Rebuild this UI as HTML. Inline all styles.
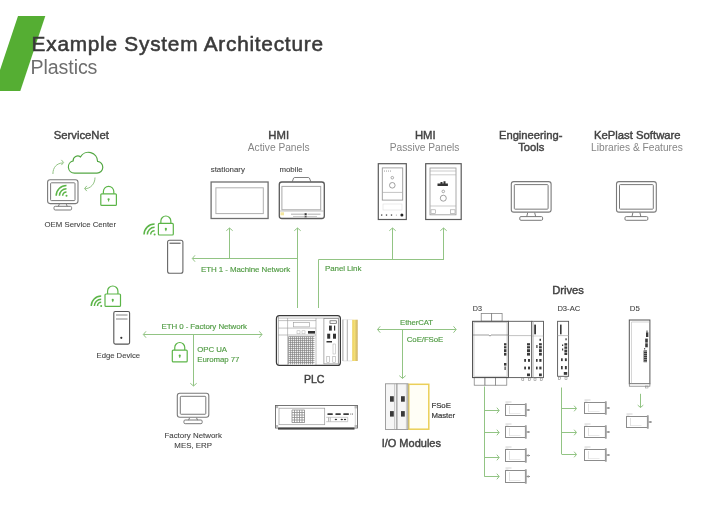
<!DOCTYPE html>
<html><head><meta charset="utf-8"><style>
html,body{margin:0;padding:0;background:#fff;}
body{width:720px;height:509px;overflow:hidden;}
svg{display:block;font-family:"Liberation Sans", sans-serif;will-change:transform;}
</style></head><body>
<svg width="720" height="509" viewBox="0 0 720 509">
<rect width="720" height="509" fill="#fff"/>
<polygon points="18,16 45.3,16 20.3,91 -7,91" fill="#55ae33"/>
<text x="31.6" y="51.3" font-size="20.8" fill="#3a3a3a" font-weight="normal" text-anchor="start" stroke="#3a3a3a" stroke-width="0.55" letter-spacing="0.76">Example System Architecture</text>
<text x="30.6" y="74" font-size="19.6" fill="#6e6e6e" font-weight="normal" text-anchor="start" letter-spacing="-0.1">Plastics</text>
<text x="81.3" y="138.9" font-size="11.3" fill="#434343" font-weight="normal" text-anchor="middle" stroke="#434343" stroke-width="0.42">ServiceNet</text>
<text x="278.7" y="138.9" font-size="11.3" fill="#434343" font-weight="normal" text-anchor="middle" stroke="#434343" stroke-width="0.42">HMI</text>
<text x="278.7" y="150.6" font-size="10.2" fill="#858585" font-weight="normal" text-anchor="middle" >Active Panels</text>
<text x="425.3" y="138.9" font-size="11.3" fill="#434343" font-weight="normal" text-anchor="middle" stroke="#434343" stroke-width="0.42">HMI</text>
<text x="424.6" y="150.6" font-size="10.2" fill="#858585" font-weight="normal" text-anchor="middle" >Passive Panels</text>
<text x="530.7" y="139.2" font-size="11.2" fill="#434343" font-weight="normal" text-anchor="middle" stroke="#434343" stroke-width="0.42">Engineering-</text>
<text x="531.2" y="150.6" font-size="11.2" fill="#434343" font-weight="normal" text-anchor="middle" stroke="#434343" stroke-width="0.42">Tools</text>
<text x="637.3" y="139.2" font-size="11.3" fill="#434343" font-weight="normal" text-anchor="middle" stroke="#434343" stroke-width="0.42">KePlast Software</text>
<text x="636.9" y="150.6" font-size="10.2" fill="#858585" font-weight="normal" text-anchor="middle" >Libraries &amp; Features</text>
<text x="227.8" y="172.3" font-size="7.9" fill="#444444" font-weight="normal" text-anchor="middle" stroke="#444444" stroke-width="0.1">stationary</text>
<text x="291" y="172.3" font-size="7.9" fill="#444444" font-weight="normal" text-anchor="middle" stroke="#444444" stroke-width="0.1">mobile</text>
<path d="M76,173.1 H97 A5.87,5.87 0 0 0 97.6,161.4 A9.16,9.16 0 0 0 80.5,156.9 A4.54,4.54 0 0 0 73.2,160.8 A6.23,6.23 0 0 0 74.5,173.1 Z" fill="none" stroke="#55a845" stroke-width="1.2"/>
<path d="M52.9,174 C52.9,167.5 56.5,163.2 63,162.9" fill="none" stroke="#92c484" stroke-width="1"/>
<polyline points="61.39,159.9 63.6,162.5 61.39,165.1" fill="none" stroke="#92c484" stroke-width="1"/>
<path d="M95,177.5 C95,184 90.5,188.6 84.8,188.8" fill="none" stroke="#92c484" stroke-width="1"/>
<polyline points="86.80999999999999,185.9 84.6,188.5 86.80999999999999,191.1" fill="none" stroke="#92c484" stroke-width="1"/>
<rect x="47.6" y="179.8" width="30.4" height="23.80399999999999" rx="2.5" fill="none" stroke="#7a7a7a" stroke-width="1.1"/>
<rect x="50.6" y="182.8" width="24.4" height="17.80399999999999" rx="0.8" fill="none" stroke="#7a7a7a" stroke-width="1"/>
<path d="M59.3,204.104 L58.3,206.5 M66.3,204.104 L67.3,206.5" stroke="#7a7a7a" stroke-width="1" fill="none"/>
<rect x="54.007999999999996" y="206.3" width="17.584" height="3.7" rx="1.2" fill="none" stroke="#7a7a7a" stroke-width="1"/>
<path d="M62.66,195.8 A3.84,3.84 0 0 1 66.5,191.96 M59.42,195.8 A7.08,7.08 0 0 1 66.5,188.72 M56.18,195.8 A10.32,10.32 0 0 1 66.5,185.48000000000002" fill="none" stroke="#5cb548" stroke-width="1.5" stroke-linecap="butt"/>
<circle cx="66.5" cy="195.8" r="1" fill="#5cb548"/>
<path d="M103.392,193.848 L103.392,191.608 A5.207999999999999,5.207999999999999 0 0 1 113.80799999999999,191.608 L113.80799999999999,193.848" fill="none" stroke="#5cb548" stroke-width="1.2"/>
<rect x="100.8" y="193.848" width="15.599999999999998" height="11.551999999999987" rx="1" fill="none" stroke="#5cb548" stroke-width="1.2"/>
<circle cx="108.6" cy="199.324" r="1.1" fill="#5cb548"/>
<rect x="108.1" y="199.324" width="1" height="2.2" fill="#5cb548"/>
<text x="80.3" y="227.3" font-size="7.8" fill="#444444" font-weight="normal" text-anchor="middle" stroke="#444444" stroke-width="0.1">OEM Service Center</text>
<rect x="211.1" y="182" width="57" height="36.5" fill="none" stroke="#707070" stroke-width="1.3"/>
<rect x="215.9" y="187.8" width="47.4" height="25.8" fill="none" stroke="#b0b0b0" stroke-width="1"/>
<path d="M292.3,181.6 L293.6,178 Q294,177.5 295,177.5 L308,177.5 Q309,177.5 309.4,178 L310.8,181.6" fill="none" stroke="#808080" stroke-width="1"/>
<rect x="279.3" y="182" width="45" height="36.5" rx="2.5" fill="none" stroke="#5a5a5a" stroke-width="1.3"/>
<rect x="281.9" y="186.4" width="38.8" height="23.4" fill="none" stroke="#a8a8a8" stroke-width="1"/>
<line x1="280" y1="211" x2="324" y2="211" stroke="#b0b0b0" stroke-width="0.8"/>
<rect x="291" y="213.6" width="13" height="1.2" fill="#bbb"/><rect x="307.5" y="213.6" width="13" height="1.2" fill="#bbb"/><rect x="293" y="216" width="11" height="1" fill="#ccc"/><rect x="307" y="216" width="10" height="1" fill="#ccc"/>
<rect x="304.5" y="213.2" width="2.2" height="2" fill="#333"/><rect x="304.5" y="215.8" width="2.2" height="1.6" fill="#555"/>
<rect x="280.5" y="212.3" width="3.5" height="3" fill="#f3e6a0"/>
<line x1="229.5" y1="228" x2="229.5" y2="259" stroke="#92c484" stroke-width="1"/>
<polyline points="226.3,230.72 229.5,228 232.7,230.72" fill="none" stroke="#92c484" stroke-width="1"/>
<line x1="297.5" y1="228" x2="297.5" y2="308" stroke="#92c484" stroke-width="1"/>
<polyline points="294.3,230.72 297.5,228 300.7,230.72" fill="none" stroke="#92c484" stroke-width="1"/>
<rect x="378.3" y="163.7" width="28" height="55.8" fill="none" stroke="#5a5a5a" stroke-width="1.2"/>
<rect x="382.3" y="167.9" width="20.4" height="32.2" fill="none" stroke="#9a9a9a" stroke-width="0.9"/>
<line x1="382.3" y1="192.4" x2="402.7" y2="192.4" stroke="#aaa" stroke-width="0.7"/>
<circle cx="392.3" cy="177.7" r="1.3" fill="none" stroke="#888" stroke-width="0.7"/>
<circle cx="392.3" cy="185.3" r="2.8" fill="none" stroke="#888" stroke-width="0.8"/>
<rect x="384" y="170.6" width="0.9" height="0.9" fill="#888"/>
<rect x="386" y="170.6" width="0.9" height="0.9" fill="#888"/>
<rect x="388" y="170.6" width="0.9" height="0.9" fill="#888"/>
<rect x="390" y="170.6" width="0.9" height="0.9" fill="#888"/>
<circle cx="381.7" cy="215.1" r="0.8" fill="#555"/>
<circle cx="386.5" cy="215.1" r="0.8" fill="#555"/>
<circle cx="391.5" cy="215.1" r="0.8" fill="#555"/>
<circle cx="396.4" cy="215.1" r="0.6" fill="#aaa"/>
<circle cx="401.9" cy="215.1" r="1.5" fill="#222"/>
<rect x="383" y="204" width="19" height="6" fill="none" stroke="#ddd" stroke-width="0.6"/>
<rect x="425.7" y="163.7" width="35.5" height="55.8" fill="none" stroke="#5a5a5a" stroke-width="1.2"/>
<rect x="430" y="168" width="26" height="46.8" fill="none" stroke="#a0a0a0" stroke-width="0.9"/>
<line x1="430" y1="171" x2="456" y2="171" stroke="#aaa" stroke-width="0.6"/>
<line x1="430" y1="174.8" x2="456" y2="174.8" stroke="#aaa" stroke-width="0.6"/>
<line x1="430" y1="206" x2="456" y2="206" stroke="#aaa" stroke-width="0.6"/>
<path d="M437.5,183.5 h3 v-1.5 h2 v1.5 h1 v-2.2 h2 v2.2 h2.4 v2.4 h-10.4 Z" fill="#333"/>
<circle cx="443.3" cy="191.4" r="1.3" fill="none" stroke="#888" stroke-width="0.7"/>
<circle cx="443.3" cy="198.2" r="3" fill="none" stroke="#888" stroke-width="0.8"/>
<rect x="431" y="209.8" width="4.5" height="3.5" fill="none" stroke="#999" stroke-width="0.6"/>
<rect x="450.5" y="209.8" width="4.5" height="3.5" fill="none" stroke="#999" stroke-width="0.6"/>
<line x1="392.5" y1="228" x2="392.5" y2="259.5" stroke="#92c484" stroke-width="1"/>
<polyline points="389.3,230.72 392.5,228 395.7,230.72" fill="none" stroke="#92c484" stroke-width="1"/>
<line x1="443.5" y1="228" x2="443.5" y2="259.5" stroke="#92c484" stroke-width="1"/>
<polyline points="440.3,230.72 443.5,228 446.7,230.72" fill="none" stroke="#92c484" stroke-width="1"/>
<path d="M318.5,308 L318.5,259.5 L444,259.5" fill="none" stroke="#92c484" stroke-width="1"/>
<text x="325" y="271.4" font-size="7.9559999999999995" fill="#509b43" font-weight="normal" text-anchor="start" letter-spacing="-0.08" stroke="#509b43" stroke-width="0.15">Panel Link</text>
<rect x="511.3" y="181.6" width="39.80000000000001" height="30.561500000000017" rx="2.5" fill="none" stroke="#7a7a7a" stroke-width="1.1"/>
<rect x="514.3" y="184.6" width="33.80000000000001" height="24.561500000000017" rx="0.8" fill="none" stroke="#7a7a7a" stroke-width="1"/>
<path d="M527.7,212.66150000000002 L526.7,216.8 M534.7,212.66150000000002 L535.7,216.8" stroke="#7a7a7a" stroke-width="1" fill="none"/>
<rect x="519.7760000000001" y="216.60000000000002" width="22.84800000000001" height="3.7" rx="1.2" fill="none" stroke="#7a7a7a" stroke-width="1"/>
<rect x="616.5" y="181.6" width="39.799999999999955" height="30.561500000000017" rx="2.5" fill="none" stroke="#7a7a7a" stroke-width="1.1"/>
<rect x="619.5" y="184.6" width="33.799999999999955" height="24.561500000000017" rx="0.8" fill="none" stroke="#7a7a7a" stroke-width="1"/>
<path d="M632.9,212.66150000000002 L631.9,216.8 M639.9,212.66150000000002 L640.9,216.8" stroke="#7a7a7a" stroke-width="1" fill="none"/>
<rect x="624.976" y="216.60000000000002" width="22.847999999999978" height="3.7" rx="1.2" fill="none" stroke="#7a7a7a" stroke-width="1"/>
<line x1="192.5" y1="258.5" x2="297.9" y2="258.5" stroke="#92c484" stroke-width="1"/>
<polyline points="195.02,255.3 192.3,258.5 195.02,261.7" fill="none" stroke="#92c484" stroke-width="1"/>
<text x="245.6" y="271.7" font-size="7.9559999999999995" fill="#509b43" font-weight="normal" text-anchor="middle" letter-spacing="-0.08" stroke="#509b43" stroke-width="0.15">ETH 1 - Machine Network</text>
<path d="M150.664,234.6 A3.9359999999999946,3.9359999999999946 0 0 1 154.6,230.664 M147.34300000000002,234.6 A7.25699999999999,7.25699999999999 0 0 1 154.6,227.34300000000002 M144.02200000000002,234.6 A10.577999999999985,10.577999999999985 0 0 1 154.6,224.02200000000002" fill="none" stroke="#5cb548" stroke-width="1.5" stroke-linecap="butt"/>
<circle cx="154.6" cy="234.6" r="1" fill="#5cb548"/>
<path d="M160.85900000000004,223.448 L160.85900000000004,220.99099999999999 A4.990999999999998,4.990999999999998 0 0 1 170.841,220.99099999999999 L170.841,223.448" fill="none" stroke="#5cb548" stroke-width="1.2"/>
<rect x="158.4" y="223.448" width="14.899999999999995" height="11.551999999999987" rx="1" fill="none" stroke="#5cb548" stroke-width="1.2"/>
<circle cx="165.85000000000002" cy="228.924" r="1.1" fill="#5cb548"/>
<rect x="165.35000000000002" y="228.924" width="1" height="2.2" fill="#5cb548"/>
<rect x="167.6" y="240.2" width="15.3" height="33" rx="2" fill="none" stroke="#666" stroke-width="1.1"/>
<line x1="169.5" y1="243.2" x2="180.6" y2="243.2" stroke="#444" stroke-width="1"/>
<path d="M97.488,306 A3.712000000000003,3.712000000000003 0 0 1 101.2,302.288 M94.356,306 A6.844000000000005,6.844000000000005 0 0 1 101.2,299.156 M91.22399999999999,306 A9.976000000000008,9.976000000000008 0 0 1 101.2,296.024" fill="none" stroke="#5cb548" stroke-width="1.5" stroke-linecap="butt"/>
<circle cx="101.2" cy="306" r="1" fill="#5cb548"/>
<path d="M107.57300000000001,293.98 L107.57300000000001,291.177 A5.176999999999996,5.176999999999996 0 0 1 117.92699999999999,291.177 L117.92699999999999,293.98" fill="none" stroke="#5cb548" stroke-width="1.2"/>
<rect x="105.0" y="293.98" width="15.49999999999999" height="12.419999999999982" rx="1" fill="none" stroke="#5cb548" stroke-width="1.2"/>
<circle cx="112.75" cy="299.89" r="1.1" fill="#5cb548"/>
<rect x="112.25" y="299.89" width="1" height="2.2" fill="#5cb548"/>
<rect x="113.8" y="311.5" width="15.8" height="32.6" rx="1.5" fill="none" stroke="#555" stroke-width="1.1"/>
<line x1="116" y1="315" x2="127.5" y2="315" stroke="#777" stroke-width="0.9"/>
<line x1="116" y1="319" x2="127.5" y2="319" stroke="#777" stroke-width="0.9"/>
<circle cx="121.3" cy="337.8" r="1.1" fill="#333"/>
<text x="118.3" y="357.8" font-size="7.7" fill="#444444" font-weight="normal" text-anchor="middle" stroke="#444444" stroke-width="0.1">Edge Device</text>
<line x1="143.5" y1="334.5" x2="262" y2="334.5" stroke="#92c484" stroke-width="1"/>
<polyline points="146.02,331.3 143.3,334.5 146.02,337.7" fill="none" stroke="#92c484" stroke-width="1"/>
<polyline points="259.28,331.3 262,334.5 259.28,337.7" fill="none" stroke="#92c484" stroke-width="1"/>
<text x="204.2" y="329.2" font-size="7.9559999999999995" fill="#509b43" font-weight="normal" text-anchor="middle" letter-spacing="-0.08" stroke="#509b43" stroke-width="0.15">ETH 0 - Factory Network</text>
<line x1="193.5" y1="334.6" x2="193.5" y2="386" stroke="#92c484" stroke-width="1"/>
<polyline points="190.3,383.28 193.5,386 196.7,383.28" fill="none" stroke="#92c484" stroke-width="1"/>
<path d="M174.759,350.1 L174.759,347.491 A4.991000000000007,4.991000000000007 0 0 1 184.741,347.491 L184.741,350.1" fill="none" stroke="#5cb548" stroke-width="1.2"/>
<rect x="172.29999999999998" y="350.1" width="14.900000000000023" height="11.799999999999978" rx="1" fill="none" stroke="#5cb548" stroke-width="1.2"/>
<circle cx="179.75" cy="355.7" r="1.1" fill="#5cb548"/>
<rect x="179.25" y="355.7" width="1" height="2.2" fill="#5cb548"/>
<text x="197.3" y="351.7" font-size="7.854" fill="#509b43" font-weight="normal" text-anchor="start" letter-spacing="-0.08" stroke="#509b43" stroke-width="0.15">OPC UA</text>
<text x="197.3" y="362.2" font-size="7.854" fill="#509b43" font-weight="normal" text-anchor="start" letter-spacing="-0.08" stroke="#509b43" stroke-width="0.15">Euromap 77</text>
<rect x="177.3" y="393.3" width="31.5" height="23.962999999999983" rx="2.5" fill="none" stroke="#7a7a7a" stroke-width="1.1"/>
<rect x="180.3" y="396.3" width="25.5" height="17.962999999999983" rx="0.8" fill="none" stroke="#7a7a7a" stroke-width="1"/>
<path d="M189.55,417.763 L188.55,420.2 M196.55,417.763 L197.55,420.2" stroke="#7a7a7a" stroke-width="1" fill="none"/>
<rect x="183.95000000000002" y="420.0" width="18.200000000000003" height="3.7" rx="1.2" fill="none" stroke="#7a7a7a" stroke-width="1"/>
<text x="193.2" y="438" font-size="7.9" fill="#444444" font-weight="normal" text-anchor="middle" stroke="#444444" stroke-width="0.1">Factory Network</text>
<text x="193.2" y="447.7" font-size="7.9" fill="#444444" font-weight="normal" text-anchor="middle" stroke="#444444" stroke-width="0.1">MES, ERP</text>
<path d="M279.5,315.6 H337.6 Q340.4,315.6 340.4,318.6 V362.4 Q340.4,365.4 337.6,365.4 H279.5 Q276.4,365.4 276.4,362 V319 Q276.4,315.6 279.5,315.6 Z" fill="#fff" stroke="#3a3a3a" stroke-width="1.2"/>
<line x1="338.6" y1="317.5" x2="338.6" y2="363.5" stroke="#999" stroke-width="0.6"/>
<line x1="278.3" y1="318.1" x2="338.5" y2="318.1" stroke="#999" stroke-width="0.6"/>
<line x1="278.3" y1="316" x2="278.3" y2="365" stroke="#777" stroke-width="0.6"/>
<line x1="287.6" y1="318" x2="287.6" y2="365" stroke="#999" stroke-width="0.6"/>
<line x1="278.3" y1="320.6" x2="316" y2="320.6" stroke="#999" stroke-width="0.6"/>
<line x1="278.3" y1="328.1" x2="316" y2="328.1" stroke="#999" stroke-width="0.6"/>
<line x1="278.3" y1="335" x2="316" y2="335" stroke="#999" stroke-width="0.6"/>
<rect x="293.3" y="322.5" width="16.2" height="4.4" fill="none" stroke="#999" stroke-width="0.6"/>
<line x1="316" y1="318" x2="316" y2="365" stroke="#999" stroke-width="0.6"/>
<rect x="308" y="331" width="7" height="2.6" fill="#333"/>
<rect x="297" y="330.8" width="3" height="3" fill="none" stroke="#aaa" stroke-width="0.5"/>
<rect x="302" y="330.8" width="3" height="3" fill="none" stroke="#aaa" stroke-width="0.5"/>
<rect x="288.6" y="336.6" width="25.899999999999977" height="27.799999999999955" fill="#fff"/>
<path d="M288.60,336.6 V364.4 M290.60,336.6 V364.4 M292.60,336.6 V364.4 M294.60,336.6 V364.4 M296.60,336.6 V364.4 M298.60,336.6 V364.4 M300.60,336.6 V364.4 M302.60,336.6 V364.4 M304.60,336.6 V364.4 M306.60,336.6 V364.4 M308.60,336.6 V364.4 M310.60,336.6 V364.4 M312.60,336.6 V364.4 M288.6,336.60 H314.5 M288.6,338.60 H314.5 M288.6,340.60 H314.5 M288.6,342.60 H314.5 M288.6,344.60 H314.5 M288.6,346.60 H314.5 M288.6,348.60 H314.5 M288.6,350.60 H314.5 M288.6,352.60 H314.5 M288.6,354.60 H314.5 M288.6,356.60 H314.5 M288.6,358.60 H314.5 M288.6,360.60 H314.5 M288.6,362.60 H314.5" stroke="#7a7a7a" stroke-width="0.7" fill="none"/>
<rect x="323.9" y="318.4" width="14.4" height="45.5" fill="none" stroke="#888" stroke-width="0.7"/>
<rect x="330" y="320.8" width="6.3" height="2.5" fill="none" stroke="#555" stroke-width="0.7"/>
<rect x="329" y="325.6" width="2.8" height="5" fill="#333"/>
<rect x="334" y="325.6" width="1.2" height="5" fill="#333"/>
<rect x="327.2" y="333.7" width="3" height="5" fill="#333"/>
<rect x="333" y="333.7" width="3" height="5" fill="#333"/>
<rect x="326.5" y="341" width="5.5" height="1.5" fill="#333"/>
<rect x="333" y="344" width="2.5" height="10" fill="none" stroke="#aaa" stroke-width="0.5"/>
<rect x="326.8" y="356.5" width="2.6" height="6" fill="none" stroke="#999" stroke-width="0.5"/>
<rect x="332.8" y="356.5" width="2.6" height="6" fill="none" stroke="#999" stroke-width="0.5"/>
<line x1="342.9" y1="319.5" x2="342.9" y2="361" stroke="#8a8a8a" stroke-width="0.8"/>
<line x1="347.3" y1="319.5" x2="347.3" y2="361" stroke="#9a9a9a" stroke-width="0.8"/>
<line x1="342.9" y1="319.6" x2="352.3" y2="319.6" stroke="#ddd" stroke-width="0.5"/>
<line x1="342.9" y1="360.9" x2="352.3" y2="360.9" stroke="#ccc" stroke-width="0.5"/>
<defs><linearGradient id="yg" x1="0" x2="1" y1="0" y2="0"><stop offset="0" stop-color="#e9c94a"/><stop offset="0.35" stop-color="#f6e27a"/><stop offset="1" stop-color="#cdb060"/></linearGradient></defs>
<rect x="352.3" y="319.7" width="5.4" height="41.3" fill="url(#yg)"/>
<text x="314.2" y="382.7" font-size="10.6" fill="#3d3d3d" font-weight="normal" text-anchor="middle" stroke="#434343" stroke-width="0.42">PLC</text>
<rect x="275.5" y="405.5" width="82" height="22.5" fill="#fff" stroke="#666" stroke-width="0.9"/>
<rect x="278" y="427.6" width="76.5" height="2" fill="#444"/>
<rect x="279" y="408.2" width="45.7" height="16.5" fill="none" stroke="#999" stroke-width="0.7"/>
<path d="M292.00,410 V422.6 M294.50,410 V422.6 M297.00,410 V422.6 M299.50,410 V422.6 M302.00,410 V422.6 M304.50,410 V422.6 M292,410.00 H304.6 M292,412.50 H304.6 M292,415.00 H304.6 M292,417.50 H304.6 M292,420.00 H304.6 M292,422.50 H304.6" stroke="#8a8a8a" stroke-width="0.8" fill="none"/>
<rect x="327.3" y="413.3" width="5.6" height="1.6" rx="0.7" fill="#3a3a3a"/>
<rect x="335.3" y="413.3" width="5.6" height="1.6" rx="0.7" fill="#3a3a3a"/>
<rect x="343.2" y="413.3" width="5.8" height="1.6" rx="0.7" fill="#3a3a3a"/>
<path d="M326.2,417.3 H347.7 V421.7 H326.2" fill="none" stroke="#aaa" stroke-width="0.6"/>
<rect x="328.3" y="417.5" width="0.7" height="4" fill="#999"/><rect x="329.8" y="417.5" width="0.7" height="4" fill="#999"/>
<ellipse cx="335.9" cy="419.5" rx="1.2" ry="0.8" fill="#333"/><ellipse cx="341.8" cy="419.5" rx="1.2" ry="0.8" fill="#333"/><ellipse cx="345" cy="419.5" rx="1.2" ry="0.8" fill="#333"/>
<rect x="350.5" y="413.3" width="0.7" height="1.6" fill="#777"/><rect x="352.3" y="413.3" width="0.7" height="1.6" fill="#777"/>
<rect x="276" y="406" width="2.2" height="2.2" fill="#bbb"/><rect x="354.6" y="406" width="2.4" height="2.4" fill="#bbb"/><rect x="354.6" y="425" width="2.4" height="2.4" fill="#bbb"/><rect x="276" y="425" width="2.2" height="2.4" fill="#bbb"/>
<line x1="355.3" y1="406" x2="355.3" y2="427.5" stroke="#bbb" stroke-width="0.6"/>
<line x1="377.7" y1="329.5" x2="456" y2="329.5" stroke="#92c484" stroke-width="1"/>
<polyline points="380.22,326.3 377.5,329.5 380.22,332.7" fill="none" stroke="#92c484" stroke-width="1"/>
<polyline points="453.47999999999996,326.3 456.2,329.5 453.47999999999996,332.7" fill="none" stroke="#92c484" stroke-width="1"/>
<text x="416.5" y="325" font-size="7.752" fill="#509b43" font-weight="normal" text-anchor="middle" letter-spacing="-0.08" stroke="#509b43" stroke-width="0.15">EtherCAT</text>
<text x="425" y="342.2" font-size="7.854" fill="#509b43" font-weight="normal" text-anchor="middle" letter-spacing="-0.08" stroke="#509b43" stroke-width="0.15">CoE/FSoE</text>
<line x1="402.5" y1="329.7" x2="402.5" y2="378.4" stroke="#92c484" stroke-width="1"/>
<polyline points="399.3,375.67999999999995 402.5,378.4 405.7,375.67999999999995" fill="none" stroke="#92c484" stroke-width="1"/>
<rect x="385.5" y="383.8" width="11.5" height="45.7" fill="#f6f6f6" stroke="#8a8a8a" stroke-width="0.8"/>
<line x1="394.6" y1="384" x2="394.6" y2="429.5" stroke="#aaa" stroke-width="0.6"/>
<rect x="397" y="383.8" width="11" height="45.7" fill="#f6f6f6" stroke="#8a8a8a" stroke-width="0.8"/>
<line x1="406.4" y1="384" x2="406.4" y2="429.5" stroke="#aaa" stroke-width="0.6"/>
<rect x="408.8" y="384.3" width="20" height="44.9" fill="#fffef6" stroke="#ebcf58" stroke-width="1.5"/>
<line x1="408" y1="383.8" x2="408" y2="429.5" stroke="#9a9a9a" stroke-width="0.8"/>
<rect x="390" y="396.2" width="3.8" height="5.5" fill="#3a3a3a"/>
<rect x="390" y="411.1" width="3.8" height="5.5" fill="#3a3a3a"/>
<rect x="401" y="396.2" width="3.8" height="5.5" fill="#3a3a3a"/>
<rect x="401" y="411.1" width="3.8" height="5.5" fill="#3a3a3a"/>
<text x="431.4" y="408" font-size="7.8" fill="#3a3a3a" font-weight="normal" text-anchor="start" stroke="#3a3a3a" stroke-width="0.2">FSoE</text>
<text x="431.4" y="417.9" font-size="7.8" fill="#3a3a3a" font-weight="normal" text-anchor="start" stroke="#3a3a3a" stroke-width="0.2">Master</text>
<text x="411.3" y="446.5" font-size="11" fill="#3d3d3d" font-weight="normal" text-anchor="middle" stroke="#434343" stroke-width="0.42">I/O Modules</text>
<text x="568" y="294.4" font-size="11.2" fill="#3d3d3d" font-weight="normal" text-anchor="middle" stroke="#434343" stroke-width="0.42">Drives</text>
<text x="472.8" y="310.7" font-size="7.2" fill="#444444" font-weight="normal" text-anchor="start" stroke="#444444" stroke-width="0.1">D3</text>
<text x="557.4" y="310.7" font-size="7.6" fill="#444444" font-weight="normal" text-anchor="start" stroke="#444444" stroke-width="0.1">D3-AC</text>
<text x="629.8" y="310.7" font-size="7.8" fill="#444444" font-weight="normal" text-anchor="start" stroke="#444444" stroke-width="0.1">D5</text>
<rect x="481.2" y="313.5" width="10.5" height="7.7" fill="#fff" stroke="#777" stroke-width="0.7"/>
<rect x="491.7" y="313.5" width="10.4" height="7.7" fill="#fff" stroke="#777" stroke-width="0.7"/>
<rect x="474.2" y="377.6" width="10.8" height="7.6" fill="#fff" stroke="#777" stroke-width="0.7"/>
<rect x="485" y="377.6" width="10.4" height="7.6" fill="#fff" stroke="#777" stroke-width="0.7"/>
<rect x="495.4" y="377.6" width="11.4" height="7.6" fill="#fff" stroke="#777" stroke-width="0.7"/>
<rect x="472.6" y="321.3" width="35.8" height="56.3" fill="#fff" stroke="#444" stroke-width="1"/>
<rect x="474" y="322.6" width="33" height="53.6" fill="none" stroke="#aaa" stroke-width="0.5"/>
<path d="M473,335 H489 L490,336.2 L491,335 H508" fill="none" stroke="#777" stroke-width="0.7"/>
<rect x="508.4" y="321.3" width="23.4" height="56.3" fill="#fff" stroke="#555" stroke-width="0.9"/>
<line x1="508.4" y1="335.6" x2="531.8" y2="335.6" stroke="#999" stroke-width="0.6"/>
<rect x="531.8" y="321.3" width="11.7" height="56.3" fill="#fff" stroke="#555" stroke-width="0.9"/>
<line x1="533.5" y1="321.3" x2="533.5" y2="377.6" stroke="#aaa" stroke-width="0.5"/>
<line x1="532" y1="336" x2="543.5" y2="336" stroke="#aaa" stroke-width="0.5"/>
<rect x="504" y="343.2" width="2.4" height="2.2" fill="#3a3a3a"/>
<rect x="504" y="346.2" width="2.4" height="2.2" fill="#3a3a3a"/>
<rect x="504" y="349.2" width="2.4" height="3" fill="#3a3a3a"/>
<rect x="504" y="353" width="2.4" height="2.6" fill="#3a3a3a"/>
<rect x="504" y="363" width="2.4" height="2.6" fill="#3a3a3a"/>
<rect x="504.5" y="366.5" width="1.2" height="3.5" fill="#3a3a3a"/>
<rect x="527" y="343.2" width="3" height="2.2" fill="#3a3a3a"/>
<rect x="527" y="346.2" width="3" height="2.2" fill="#3a3a3a"/>
<rect x="527" y="349.2" width="3" height="3" fill="#3a3a3a"/>
<rect x="527" y="353" width="3" height="2.6" fill="#3a3a3a"/>
<rect x="524.2" y="359" width="1.8" height="2.8" fill="#3a3a3a"/>
<rect x="528" y="359" width="2" height="2.8" fill="#3a3a3a"/>
<rect x="524.2" y="366.6" width="1.8" height="2.8" fill="#3a3a3a"/>
<rect x="528" y="366.6" width="2" height="2.8" fill="#3a3a3a"/>
<rect x="527" y="373.5" width="3" height="2.7" fill="#3a3a3a"/>
<rect x="539.5" y="338.8" width="1.5" height="2" fill="#3a3a3a"/>
<rect x="539" y="343.2" width="2.8" height="2.2" fill="#3a3a3a"/>
<rect x="539" y="346.2" width="2.8" height="2.2" fill="#3a3a3a"/>
<rect x="539" y="349.2" width="2.8" height="3" fill="#3a3a3a"/>
<rect x="539" y="353" width="2.8" height="2.6" fill="#3a3a3a"/>
<rect x="536.3" y="345" width="1.2" height="3" fill="#3a3a3a"/>
<rect x="536" y="359" width="1.6" height="2.8" fill="#3a3a3a"/>
<rect x="539.3" y="359" width="2.2" height="2.8" fill="#3a3a3a"/>
<rect x="536" y="366.6" width="1.6" height="2.8" fill="#3a3a3a"/>
<rect x="539.3" y="366.6" width="2.2" height="2.8" fill="#3a3a3a"/>
<rect x="539" y="373.5" width="2.8" height="2.7" fill="#3a3a3a"/>
<rect x="534.2" y="324.6" width="1.8" height="9.7" fill="#3a3a3a"/>
<rect x="521.8" y="378" width="2" height="2.5" fill="none" stroke="#777" stroke-width="0.5"/>
<rect x="528.6" y="378" width="2" height="2.5" fill="none" stroke="#777" stroke-width="0.5"/>
<rect x="534" y="378" width="2" height="2.5" fill="none" stroke="#777" stroke-width="0.5"/>
<rect x="540.2" y="378" width="2" height="2.5" fill="none" stroke="#777" stroke-width="0.5"/>
<rect x="557.6" y="321.3" width="11" height="55" fill="#fff" stroke="#555" stroke-width="0.9"/>
<line x1="557.4" y1="335.6" x2="569" y2="335.6" stroke="#999" stroke-width="0.6"/>
<rect x="560" y="324.6" width="1.6" height="9.7" fill="#3a3a3a"/>
<rect x="565.4" y="338.3" width="1.3" height="2" fill="#3a3a3a"/>
<rect x="564.4" y="343.2" width="2.8" height="2.4" fill="#3a3a3a"/>
<rect x="564.4" y="346.4" width="2.8" height="2.4" fill="#3a3a3a"/>
<rect x="564.4" y="349.6" width="2.8" height="2.6" fill="#3a3a3a"/>
<rect x="564.4" y="352.6" width="2.8" height="2.4" fill="#3a3a3a"/>
<rect x="562" y="344.5" width="1.2" height="1.5" fill="#3a3a3a"/>
<rect x="562" y="348.5" width="1.2" height="2" fill="#3a3a3a"/>
<rect x="561" y="358.3" width="1.7" height="2.8" fill="#3a3a3a"/>
<rect x="564.9" y="358.3" width="1.9" height="2.8" fill="#3a3a3a"/>
<rect x="561" y="366" width="1.7" height="3.3" fill="#3a3a3a"/>
<rect x="564.9" y="366" width="1.9" height="3.3" fill="#3a3a3a"/>
<rect x="563.8" y="372" width="3.4" height="2.8" fill="#3a3a3a"/>
<rect x="558.6" y="377" width="2" height="2.5" fill="none" stroke="#777" stroke-width="0.5"/>
<rect x="565" y="377" width="2" height="2.5" fill="none" stroke="#777" stroke-width="0.5"/>
<rect x="629.3" y="320" width="20.6" height="63.8" fill="#fff" stroke="#555" stroke-width="1"/>
<line x1="631.5" y1="322" x2="631.5" y2="383.5" stroke="#bbb" stroke-width="0.6"/>
<line x1="631.5" y1="322" x2="649.5" y2="322" stroke="#bbb" stroke-width="0.6"/>
<rect x="629.3" y="383.8" width="20.6" height="2.4" fill="#fff" stroke="#777" stroke-width="0.7"/>
<rect x="645.5" y="386" width="2.5" height="2" fill="none" stroke="#888" stroke-width="0.5"/>
<rect x="646.5" y="330.5" width="1" height="1.5" fill="#3a3a3a"/>
<rect x="646" y="332.3" width="2.3" height="4.7" fill="#3a3a3a"/>
<rect x="645.2" y="338.6" width="2.6" height="4" fill="#3a3a3a"/>
<rect x="645.2" y="343.3" width="2.6" height="4" fill="#3a3a3a"/>
<rect x="644" y="348.2" width="1.2" height="1.2" fill="#3a3a3a"/>
<rect x="643.6" y="350.4" width="3.4" height="11.8" fill="#3a3a3a"/>
<rect x="643.6" y="351.4" width="3.4" height="0.6" fill="#bbb"/>
<rect x="643.6" y="353.3" width="3.4" height="0.6" fill="#bbb"/>
<rect x="643.6" y="355.2" width="3.4" height="0.6" fill="#bbb"/>
<rect x="643.6" y="357.1" width="3.4" height="0.6" fill="#bbb"/>
<rect x="643.6" y="359.0" width="3.4" height="0.6" fill="#bbb"/>
<rect x="643.6" y="360.9" width="3.4" height="0.6" fill="#bbb"/>
<line x1="484.5" y1="386.5" x2="484.5" y2="476.5" stroke="#92c484" stroke-width="1"/>
<line x1="484.3" y1="410.5" x2="499" y2="410.5" stroke="#92c484" stroke-width="1"/>
<polyline points="496.82,407.7 499.2,410.5 496.82,413.3" fill="none" stroke="#92c484" stroke-width="1"/>
<line x1="484.3" y1="432.5" x2="499" y2="432.5" stroke="#92c484" stroke-width="1"/>
<polyline points="496.82,429.7 499.2,432.5 496.82,435.3" fill="none" stroke="#92c484" stroke-width="1"/>
<line x1="484.3" y1="457.5" x2="499" y2="457.5" stroke="#92c484" stroke-width="1"/>
<polyline points="496.82,454.7 499.2,457.5 496.82,460.3" fill="none" stroke="#92c484" stroke-width="1"/>
<line x1="484.3" y1="476.5" x2="499" y2="476.5" stroke="#92c484" stroke-width="1"/>
<polyline points="496.82,473.7 499.2,476.5 496.82,479.3" fill="none" stroke="#92c484" stroke-width="1"/>
<rect x="505.5" y="404.5" width="20.0" height="11.0" fill="#fff" stroke="#8c8c8c" stroke-width="1"/>
<line x1="509.5" y1="406.0" x2="509.5" y2="414.0" stroke="#d4d4d4" stroke-width="0.7"/>
<line x1="509.5" y1="413.5" x2="520.5" y2="413.5" stroke="#dcdcdc" stroke-width="0.6"/>
<rect x="524.9" y="403.3" width="1.8" height="13.4" fill="#9a9a9a"/>
<line x1="526.5" y1="410.0" x2="530.0" y2="410.0" stroke="#888" stroke-width="1"/>
<rect x="527.5" y="409.0" width="1.5" height="2" fill="#999"/>
<line x1="505.5" y1="402.0" x2="511.5" y2="402.0" stroke="#c8c8c8" stroke-width="0.8"/>
<line x1="505.5" y1="403.2" x2="508.5" y2="403.2" stroke="#d0d0d0" stroke-width="0.6"/>
<rect x="505.5" y="426.5" width="20.0" height="11.0" fill="#fff" stroke="#8c8c8c" stroke-width="1"/>
<line x1="509.5" y1="428.0" x2="509.5" y2="436.0" stroke="#d4d4d4" stroke-width="0.7"/>
<line x1="509.5" y1="435.5" x2="520.5" y2="435.5" stroke="#dcdcdc" stroke-width="0.6"/>
<rect x="524.9" y="425.3" width="1.8" height="13.4" fill="#9a9a9a"/>
<line x1="526.5" y1="432.0" x2="530.0" y2="432.0" stroke="#888" stroke-width="1"/>
<rect x="527.5" y="431.0" width="1.5" height="2" fill="#999"/>
<line x1="505.5" y1="424.0" x2="511.5" y2="424.0" stroke="#c8c8c8" stroke-width="0.8"/>
<line x1="505.5" y1="425.2" x2="508.5" y2="425.2" stroke="#d0d0d0" stroke-width="0.6"/>
<rect x="505.5" y="449.5" width="20.0" height="12.0" fill="#fff" stroke="#8c8c8c" stroke-width="1"/>
<line x1="509.5" y1="451.0" x2="509.5" y2="460.0" stroke="#d4d4d4" stroke-width="0.7"/>
<line x1="509.5" y1="459.5" x2="520.5" y2="459.5" stroke="#dcdcdc" stroke-width="0.6"/>
<rect x="524.9" y="448.3" width="1.8" height="14.4" fill="#9a9a9a"/>
<line x1="526.5" y1="455.5" x2="530.0" y2="455.5" stroke="#888" stroke-width="1"/>
<rect x="527.5" y="454.5" width="1.5" height="2" fill="#999"/>
<line x1="505.5" y1="447.0" x2="511.5" y2="447.0" stroke="#c8c8c8" stroke-width="0.8"/>
<line x1="505.5" y1="448.2" x2="508.5" y2="448.2" stroke="#d0d0d0" stroke-width="0.6"/>
<rect x="505.5" y="470.5" width="20.0" height="12.0" fill="#fff" stroke="#8c8c8c" stroke-width="1"/>
<line x1="509.5" y1="472.0" x2="509.5" y2="481.0" stroke="#d4d4d4" stroke-width="0.7"/>
<line x1="509.5" y1="480.5" x2="520.5" y2="480.5" stroke="#dcdcdc" stroke-width="0.6"/>
<rect x="524.9" y="469.3" width="1.8" height="14.4" fill="#9a9a9a"/>
<line x1="526.5" y1="476.5" x2="530.0" y2="476.5" stroke="#888" stroke-width="1"/>
<rect x="527.5" y="475.5" width="1.5" height="2" fill="#999"/>
<line x1="505.5" y1="468.0" x2="511.5" y2="468.0" stroke="#c8c8c8" stroke-width="0.8"/>
<line x1="505.5" y1="469.2" x2="508.5" y2="469.2" stroke="#d0d0d0" stroke-width="0.6"/>
<line x1="561.5" y1="387.5" x2="561.5" y2="454.3" stroke="#92c484" stroke-width="1"/>
<line x1="561.8" y1="408.5" x2="576.3" y2="408.5" stroke="#92c484" stroke-width="1"/>
<polyline points="574.12,405.7 576.5,408.5 574.12,411.3" fill="none" stroke="#92c484" stroke-width="1"/>
<line x1="561.8" y1="432.5" x2="576.3" y2="432.5" stroke="#92c484" stroke-width="1"/>
<polyline points="574.12,429.7 576.5,432.5 574.12,435.3" fill="none" stroke="#92c484" stroke-width="1"/>
<line x1="561.8" y1="454.5" x2="576.3" y2="454.5" stroke="#92c484" stroke-width="1"/>
<polyline points="574.12,451.7 576.5,454.5 574.12,457.3" fill="none" stroke="#92c484" stroke-width="1"/>
<rect x="584.5" y="402.5" width="21.0" height="11.0" fill="#fff" stroke="#8c8c8c" stroke-width="1"/>
<line x1="588.5" y1="404.0" x2="588.5" y2="412.0" stroke="#d4d4d4" stroke-width="0.7"/>
<line x1="588.5" y1="411.5" x2="599.5" y2="411.5" stroke="#dcdcdc" stroke-width="0.6"/>
<rect x="604.9" y="401.3" width="1.8" height="13.4" fill="#9a9a9a"/>
<line x1="606.5" y1="408.0" x2="610.0" y2="408.0" stroke="#888" stroke-width="1"/>
<rect x="607.5" y="407.0" width="1.5" height="2" fill="#999"/>
<line x1="584.5" y1="400.0" x2="590.5" y2="400.0" stroke="#c8c8c8" stroke-width="0.8"/>
<line x1="584.5" y1="401.2" x2="587.5" y2="401.2" stroke="#d0d0d0" stroke-width="0.6"/>
<rect x="584.5" y="426.5" width="21.0" height="11.0" fill="#fff" stroke="#8c8c8c" stroke-width="1"/>
<line x1="588.5" y1="428.0" x2="588.5" y2="436.0" stroke="#d4d4d4" stroke-width="0.7"/>
<line x1="588.5" y1="435.5" x2="599.5" y2="435.5" stroke="#dcdcdc" stroke-width="0.6"/>
<rect x="604.9" y="425.3" width="1.8" height="13.4" fill="#9a9a9a"/>
<line x1="606.5" y1="432.0" x2="610.0" y2="432.0" stroke="#888" stroke-width="1"/>
<rect x="607.5" y="431.0" width="1.5" height="2" fill="#999"/>
<line x1="584.5" y1="424.0" x2="590.5" y2="424.0" stroke="#c8c8c8" stroke-width="0.8"/>
<line x1="584.5" y1="425.2" x2="587.5" y2="425.2" stroke="#d0d0d0" stroke-width="0.6"/>
<rect x="584.5" y="449.5" width="21.0" height="11.0" fill="#fff" stroke="#8c8c8c" stroke-width="1"/>
<line x1="588.5" y1="451.0" x2="588.5" y2="459.0" stroke="#d4d4d4" stroke-width="0.7"/>
<line x1="588.5" y1="458.5" x2="599.5" y2="458.5" stroke="#dcdcdc" stroke-width="0.6"/>
<rect x="604.9" y="448.3" width="1.8" height="13.4" fill="#9a9a9a"/>
<line x1="606.5" y1="455.0" x2="610.0" y2="455.0" stroke="#888" stroke-width="1"/>
<rect x="607.5" y="454.0" width="1.5" height="2" fill="#999"/>
<line x1="584.5" y1="447.0" x2="590.5" y2="447.0" stroke="#c8c8c8" stroke-width="0.8"/>
<line x1="584.5" y1="448.2" x2="587.5" y2="448.2" stroke="#d0d0d0" stroke-width="0.6"/>
<line x1="640.5" y1="393.8" x2="640.5" y2="407.5" stroke="#92c484" stroke-width="1"/>
<polyline points="637.7,405.12 640.5,407.5 643.3,405.12" fill="none" stroke="#92c484" stroke-width="1"/>
<rect x="626.5" y="416.5" width="21.0" height="11.0" fill="#fff" stroke="#8c8c8c" stroke-width="1"/>
<line x1="630.5" y1="418.0" x2="630.5" y2="426.0" stroke="#d4d4d4" stroke-width="0.7"/>
<line x1="630.5" y1="425.5" x2="641.5" y2="425.5" stroke="#dcdcdc" stroke-width="0.6"/>
<rect x="646.9" y="415.3" width="1.8" height="13.4" fill="#9a9a9a"/>
<line x1="648.5" y1="422.0" x2="652.0" y2="422.0" stroke="#888" stroke-width="1"/>
<rect x="649.5" y="421.0" width="1.5" height="2" fill="#999"/>
<line x1="626.5" y1="414.0" x2="632.5" y2="414.0" stroke="#c8c8c8" stroke-width="0.8"/>
<line x1="626.5" y1="415.2" x2="629.5" y2="415.2" stroke="#d0d0d0" stroke-width="0.6"/>
</svg>
</body></html>
